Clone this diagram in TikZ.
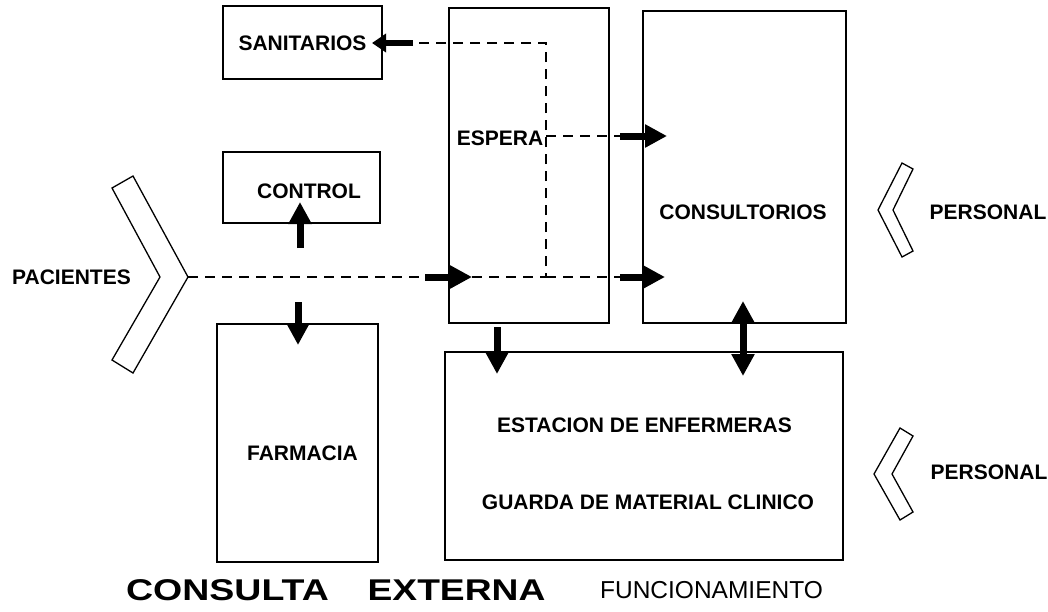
\documentclass[tikz,border=0pt]{standalone}
\usepackage{fontspec}
\setmainfont{Liberation Sans}
\usetikzlibrary{arrows.meta}
\begin{document}
\begin{tikzpicture}[x=1pt,y=-1pt,
  room/.style={draw, line width=1.4pt, inner sep=0pt},
  lbl/.style={font=\bfseries\fontsize{21}{25}\selectfont, inner sep=0pt},
  flow/.style={line width=1.3pt, dash pattern=on 10pt off 7pt},
  blk/.style={line width=7pt, -{Triangle[width=22pt,length=22pt]}},
  blksmall/.style={line width=6pt, -{Triangle[width=18pt,length=14pt]}},
  blkdbl/.style={line width=7pt, {Triangle[width=22pt,length=22pt]}-{Triangle[width=22pt,length=22pt]}},
  chev/.style={draw, line width=1.3pt, line join=miter}]
\useasboundingbox (0,0) rectangle (1048,611);

% rooms
\node[room, minimum width=159pt, minimum height=73pt] (san) at (302.5,42.5) {};
\node[room, minimum width=157pt, minimum height=71pt] (ctl) at (301.5,187.5) {};
\node[room, minimum width=160pt, minimum height=315pt] (esp) at (529,165.5) {};
\node[room, minimum width=203pt, minimum height=312pt] (con) at (744.5,167) {};
\node[room, minimum width=161pt, minimum height=238pt] (far) at (297.5,443) {};
\node[room, minimum width=398pt, minimum height=208pt] (est) at (644,456) {};

% labels
\node[lbl] (tsan) at (302.5,43) {SANITARIOS};
\node[lbl] (tctl) at (309,191) {CONTROL};
\node[lbl] (tesp) at (500,138) {ESPERA};
\node[lbl] (tcon) at (743,212) {CONSULTORIOS};
\node[lbl] (tfar) at (302.5,453) {FARMACIA};
\node[lbl] (test) at (644.5,425) {ESTACION\ DE\ ENFERMERAS};
\node[lbl] (tgua) at (648,502) {GUARDA DE MATERIAL CLINICO};
\node[lbl] (tpac) at (71.5,277) {PACIENTES};
\node[lbl] (tper1) at (988,212) {PERSONAL};
\node[lbl] (tper2) at (989,472) {PERSONAL};

% title
\node[inner sep=0pt, font=\bfseries\fontsize{30}{34}\selectfont] (t1) at (227.5,590) {\scalebox{1.25}[1]{CONSULTA}};
\node[inner sep=0pt, font=\bfseries\fontsize{30}{34}\selectfont] (t2) at (456.5,590) {\scalebox{1.24}[1]{EXTERNA}};
\node[inner sep=0pt, font=\fontsize{24.5}{28}\selectfont] (t3) at (711.5,590) {FUNCIONAMIENTO};

% chevrons
\draw[chev] (112,188) -- (133,176) -- (188,277) coordinate (ptip) -- (133,373) -- (112,360) -- (160,277) -- cycle;
\draw[chev] (902,163) -- (913,169) -- (893,210) -- (913,251) -- (902,257) -- (878,210) -- cycle;
\draw[chev] (900,428) -- (913,436) -- (892,474) -- (913,512) -- (900,520) -- (874,474) -- cycle;

% coordinates for flows
\coordinate (j1) at (546,43);
\coordinate (j2) at (546,136);
\coordinate (j3) at (546,277);
\coordinate (a1s) at (413,43);   \coordinate (a1e) at (372,43);
\coordinate (a2s) at (300,248);  \coordinate (a2e) at (300,202);
\coordinate (a3s) at (298,302);  \coordinate (a3e) at (298,345);
\coordinate (a4s) at (425,277);  \coordinate (a4e) at (472,277);
\coordinate (a5s) at (620,136);  \coordinate (a5e) at (667,136);
\coordinate (a6s) at (620,277);  \coordinate (a6e) at (665,277);
\coordinate (a7s) at (497,327);  \coordinate (a7e) at (497,374);
\coordinate (a8s) at (743,301);  \coordinate (a8e) at (743,376);

% dashed flows
\draw[flow] (ptip) -- (a4s);
\draw[flow] (a4e) -- (j3) -- (j2) -- (j1) -- (a1s);
\draw[flow] (j2) -- (a5s);
\draw[flow] (j3) -- (a6s);

% block arrows
\draw[blksmall] (a1s) -- (a1e);
\draw[blk] (a2s) -- (a2e);
\draw[blk] (a3s) -- (a3e);
\draw[blk] (a4s) -- (a4e);
\draw[blk] (a5s) -- (a5e);
\draw[blk] (a6s) -- (a6e);
\draw[blk] (a7s) -- (a7e);
\draw[blkdbl] (a8s) -- (a8e);
\end{tikzpicture}
\end{document}
